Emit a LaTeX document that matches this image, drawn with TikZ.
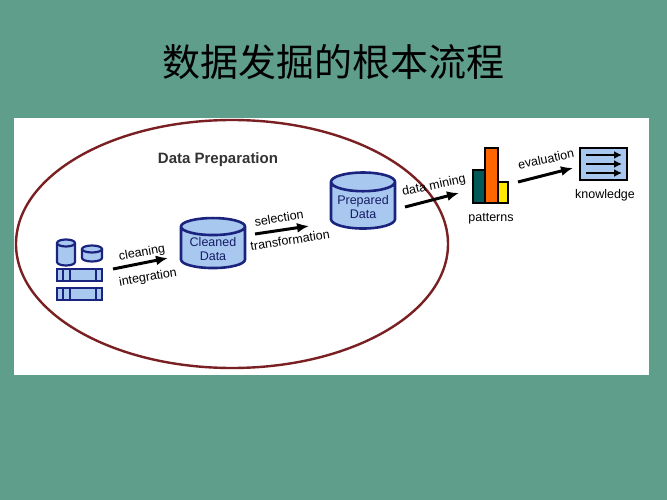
\documentclass[tikz,border=0pt]{standalone}
\usepackage{fontspec}
\setmainfont{Liberation Sans}
\newfontfamily\cjk{Noto Sans CJK SC}
\usetikzlibrary{shapes.geometric,arrows.meta}
\definecolor{bg}{HTML}{5E9E8B}
\definecolor{cylfill}{HTML}{A9C8F0}
\definecolor{cyldraw}{HTML}{1A237E}
\definecolor{ell}{HTML}{7A1F22}
\tikzset{
 cyl/.style={cylinder,shape border rotate=90,aspect=0.35,draw=cyldraw,fill=cylfill,line width=2.6pt,minimum width=64pt,align=center,font=\fontsize{12.5}{13.5}\selectfont,text=cyldraw!80!black,inner sep=1pt},
 arr/.style={-{Latex[length=12pt,width=10pt]},line width=3pt},
 lbl/.style={font=\fontsize{12.5}{14}\selectfont,inner sep=1pt},
 bar/.style={draw=black,line width=2.4pt},
 icon/.style={draw=cyldraw,fill=cylfill,line width=2.2pt}
}
\begin{document}
\begin{tikzpicture}[x=1pt,y=-1pt]
\fill[bg] (0,0) rectangle (667,500);
\useasboundingbox (0,0) rectangle (667,500);
\fill[white] (14,118) rectangle (649,375);
\node[font=\cjk\fontsize{38}{40}\selectfont] (title) at (333,62) {数据发掘的根本流程};
\draw[ell,line width=2.4pt] (232,244) ellipse [x radius=216,y radius=124];
\node[font=\bfseries\fontsize{15}{17}\selectfont,text=black!80] (dp) at (218,160) {Data Preparation};
% source icons
\draw[icon] (57,243) -- (57,262) arc[start angle=180,end angle=0,x radius=9,y radius=3.5] -- (75,243);
\draw[icon] (66,243) ellipse [x radius=9,y radius=3.5];
\draw[icon] (82,249) -- (82,258) arc[start angle=180,end angle=0,x radius=10,y radius=3.5] -- (102,249);
\draw[icon] (92,249) ellipse [x radius=10,y radius=3.5];
\foreach \yy/\nm in {275/b1,294/b2}{
 \draw[icon] (57,\yy-6) rectangle (102,\yy+6);
 \draw[cyldraw,line width=2.2pt] (63,\yy-6)--(63,\yy+6) (70,\yy-6)--(70,\yy+6) (96,\yy-6)--(96,\yy+6);
 \coordinate (\nm) at (102,\yy);
}
\node[cyl,minimum height=50pt] (clean) at (213,249) {Cleaned\\Data};
\node[cyl,minimum height=56pt] (prep) at (363,207) {Prepared\\Data};
\coordinate (a1) at (113,269); \coordinate (a2) at (168,258);
\draw[arr] (a1) -- (a2);
\node[lbl,rotate=10] (cl) at (142,253) {cleaning};
\node[lbl,rotate=10] (ig) at (148,278) {integration};
\coordinate (a3) at (255,234); \coordinate (a4) at (309,226);
\draw[arr] (a3) -- (a4);
\node[lbl,rotate=9] (se) at (279,218) {selection};
\node[lbl,rotate=9] (tr) at (290,240) {transformation};
% patterns
\draw[bar,fill=teal!70!black] (473,170) rectangle (485,203);
\draw[bar,fill=orange!80!red] (485,148) rectangle (498,203);
\draw[bar,fill=yellow!90!orange] (498,182) rectangle (508,203);
\node[inner sep=0] (pat) at (490,175) {};
\node[lbl] (patl) at (491,219) {patterns};
\coordinate (a5) at (405,207); \coordinate (a6) at (459,193);
\draw[arr] (a5) -- (a6);
\node[lbl,rotate=12] (dm) at (434,186) {data mining};
% knowledge
\draw[black,fill=cylfill,line width=2.4pt] (580,148) rectangle (627,180);
\node[inner sep=0] (kn) at (603,164) {};
\foreach \yy in {155,164,173} \draw[-{Latex[length=8pt,width=8pt]},line width=2.2pt] (586,\yy)--(622,\yy);
\node[lbl] (knl) at (605,195) {knowledge};
\coordinate (a7) at (518,182); \coordinate (a8) at (573,168);
\draw[arr] (a7) -- (a8);
\node[lbl,rotate=12] (ev) at (546,159) {evaluation};
\end{tikzpicture}
\end{document}
